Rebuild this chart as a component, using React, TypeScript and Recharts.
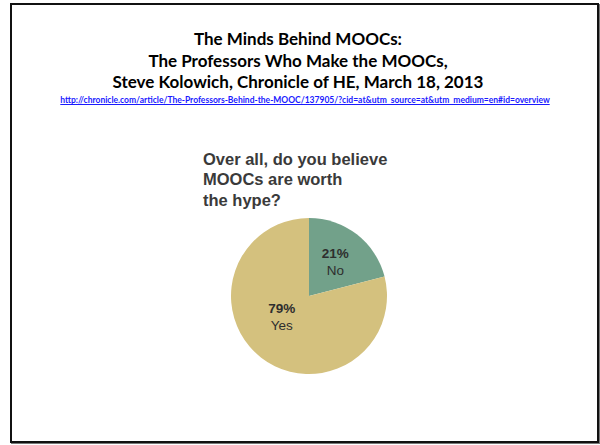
import { PieChart, Pie, Cell } from 'recharts'

const answers = ['No', 'Yes']
const shares = [21, 79]
const sliceColors = ['#72a18a', '#d4c17e']

const titleLines = [
  'The Minds Behind MOOCs:',
  'The Professors Who Make the MOOCs,',
  'Steve Kolowich, Chronicle of HE, March 18, 2013',
]
const sourceUrl =
  'http://chronicle.com/article/The-Professors-Behind-the-MOOC/137905/?cid=at&utm_source=at&utm_medium=en#id=overview'
const questionLines = ['Over all, do you believe', 'MOOCs are worth', 'the hype?']

const data = answers.map((name, i) => ({ name, value: shares[i] }))

// label placement inside each slice (angle in degrees, distance as share of radius)
const labelSpots = [
  { angle: 53, dist: 0.56 },
  { angle: 216, dist: 0.43 },
]

const RADIAN = Math.PI / 180

function SliceLabel(props: any) {
  const { cx, cy, outerRadius, index, name, value } = props
  const spot = labelSpots[index]
  const r = outerRadius * spot.dist
  const x = cx + r * Math.cos(spot.angle * RADIAN)
  const y = cy - r * Math.sin(spot.angle * RADIAN)
  return (
    <text
      x={x}
      y={y}
      textAnchor="middle"
      fill="#2e2e2e"
      style={{ fontFamily: '"Liberation Sans", Arial, sans-serif', fontSize: 13.5 }}
    >
      <tspan x={x} dy={-3} fontWeight="bold">{`${value}%`}</tspan>
      <tspan x={x} dy={17}>{name}</tspan>
    </text>
  )
}

export default function App() {
  return (
    <div style={{ position: 'absolute', left: 0, top: 0, width: 600, height: 445, background: '#fff' }}>
      {/* slide frame */}
      <div
        style={{
          position: 'absolute',
          left: 10,
          top: 3,
          width: 585,
          height: 436,
          border: '2px solid #111',
          boxShadow: '1px 1px 0 #777',
        }}
      />

      {/* slide title */}
      <div
        style={{
          position: 'absolute',
          left: 0,
          top: 28,
          width: 596,
          textAlign: 'center',
          fontFamily: 'Lato, "Open Sans", sans-serif',
          fontWeight: 700,
          fontSize: 17,
          lineHeight: '21.5px',
          color: '#000',
        }}
      >
        {titleLines.map(t => (
          <div key={t}>{t}</div>
        ))}
      </div>
      <div
        style={{
          position: 'absolute',
          left: 0,
          top: 95,
          width: 610,
          textAlign: 'center',
          fontFamily: 'Lato, sans-serif',
          fontWeight: 700,
          fontSize: 8.5,
          color: '#1a1aff',
          textDecoration: 'underline',
          whiteSpace: 'nowrap',
        }}
      >
        {sourceUrl}
      </div>

      {/* question */}
      <div
        style={{
          position: 'absolute',
          left: 203,
          top: 149,
          fontFamily: '"Liberation Sans", Arial, sans-serif',
          fontWeight: 700,
          fontSize: 16.5,
          lineHeight: '20.3px',
          color: '#3a3a3a',
        }}
      >
        {questionLines.map(t => (
          <div key={t}>{t}</div>
        ))}
      </div>

      <div style={{ position: 'absolute', left: 0, top: 0 }}>
        <PieChart width={600} height={445} margin={{ top: 0, right: 0, bottom: 0, left: 0 }}>
          <Pie
            data={data}
            dataKey="value"
            nameKey="name"
            cx={309}
            cy={296}
            outerRadius={78}
            startAngle={90}
            endAngle={-270}
            stroke="none"
            label={SliceLabel}
            labelLine={false}
            isAnimationActive={false}
          >
            {data.map((d, i) => (
              <Cell key={d.name} fill={sliceColors[i]} />
            ))}
          </Pie>
        </PieChart>
      </div>
    </div>
  )
}
